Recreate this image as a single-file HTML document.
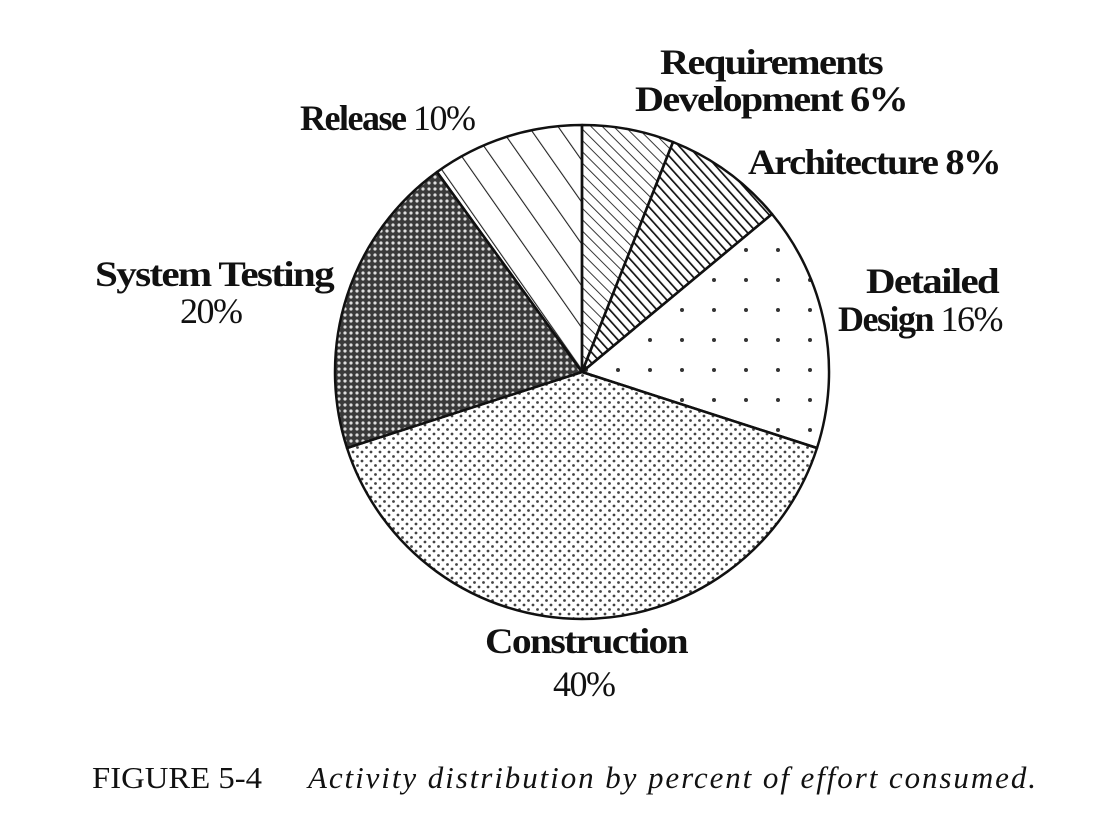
<!DOCTYPE html>
<html><head><style>body{margin:0;background:#fff}svg{display:block}</style></head><body>
<svg width="1100" height="834" viewBox="0 0 1100 834" xmlns="http://www.w3.org/2000/svg">
<defs>
<pattern id="rel" width="24" height="24" patternUnits="userSpaceOnUse" patternTransform="rotate(-35)"><line x1="0" y1="0" x2="0" y2="24" stroke="#222" stroke-width="2.2"/></pattern>
<pattern id="req" width="8" height="8" patternUnits="userSpaceOnUse" patternTransform="rotate(-45)"><line x1="0" y1="0" x2="0" y2="8" stroke="#222" stroke-width="1.8"/></pattern>
<pattern id="arc" width="7" height="7" patternUnits="userSpaceOnUse" patternTransform="rotate(-42)"><line x1="0" y1="0" x2="0" y2="7" stroke="#111" stroke-width="3.4"/></pattern>
<pattern id="det" width="32" height="30" patternUnits="userSpaceOnUse"><circle cx="10" cy="10" r="2" fill="#333"/></pattern>
<pattern id="con" width="9" height="9" patternUnits="userSpaceOnUse"><circle cx="2" cy="2" r="1.4" fill="#444"/><circle cx="6.5" cy="6.5" r="1.4" fill="#444"/></pattern>
<pattern id="sys" width="6" height="6" patternUnits="userSpaceOnUse"><rect width="6" height="6" fill="#3a3a3a"/><circle cx="3" cy="3" r="1.6" fill="#ddd"/></pattern>
</defs>
<g stroke="#111" stroke-width="2.5" stroke-linejoin="round">
<path d="M582,372 L582,125 A247,247 0 0,1 673,142 Z" fill="url(#req)"/>
<path d="M582,372 L673,142 A247,247 0 0,1 772,214 Z" fill="url(#arc)"/>
<path d="M582,372 L772,214 A247,247 0 0,1 817,448 Z" fill="url(#det)"/>
<path d="M582,372 L817,448 A247,247 0 0,1 347,448 Z" fill="url(#con)"/>
<path d="M582,372 L347,448 A247,247 0 0,1 437,172 Z" fill="url(#sys)"/>
<path d="M582,372 L437,172 A247,247 0 0,1 582,125 Z" fill="url(#rel)"/>
</g>
<g font-family="Liberation Serif, serif" font-size="36" fill="#111" letter-spacing="-1.5">
<text x="660" y="74" font-weight="bold" textLength="222" lengthAdjust="spacingAndGlyphs">Requirements</text>
<text x="635" y="111" font-weight="bold" textLength="272" lengthAdjust="spacingAndGlyphs">Development 6%</text>
<text x="748" y="174" font-weight="bold" textLength="252" lengthAdjust="spacingAndGlyphs">Architecture 8%</text>
<text x="300" y="130"><tspan font-weight="bold">Release</tspan> 10%</text>
<text x="95" y="286" font-weight="bold" textLength="238" lengthAdjust="spacingAndGlyphs">System Testing</text>
<text x="180" y="323">20%</text>
<text x="866" y="293" font-weight="bold" textLength="132" lengthAdjust="spacingAndGlyphs">Detailed</text>
<text x="838" y="331"><tspan font-weight="bold">Design</tspan> 16%</text>
<text x="485" y="653" font-weight="bold" textLength="202" lengthAdjust="spacingAndGlyphs">Construction</text>
<text x="553" y="696">40%</text>
</g>
<text x="92" y="788" font-family="Liberation Serif, serif" font-size="31" fill="#111" textLength="170" lengthAdjust="spacingAndGlyphs">FIGURE 5-4</text>
<text x="308" y="788" font-family="Liberation Serif, serif" font-size="31" font-style="italic" fill="#111" textLength="728">Activity distribution by percent of effort consumed.</text>
</svg>
</body></html>
